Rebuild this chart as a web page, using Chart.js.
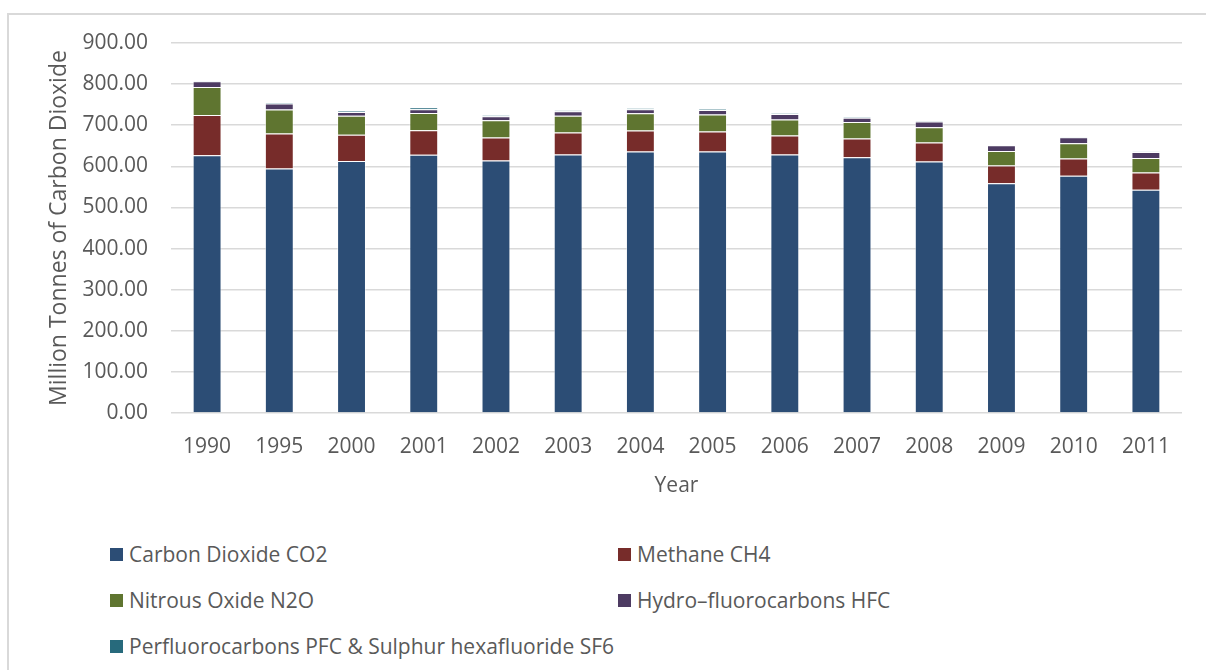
<!DOCTYPE html>
<html>
<head>
<meta charset="utf-8">
<script src="https://cdn.jsdelivr.net/npm/chart.js@4"></script>
<style>
    body { margin: 0; background: #fff; font-family: "Open Sans", sans-serif; }
    #frame { position: absolute; left: 7px; top: 13px; width: 1300px; height: 800px;
             border-left: 2px solid #d9d9d9; border-top: 2px solid #d9d9d9; }
    #wrap { position: absolute; left: 0; top: 0; width: 1206px; height: 510px; }
    #legend { position: absolute; left: 110px; top: 541px; display: grid;
              grid-template-columns: 508px 508px; row-gap: 20px; }
    .item { display: flex; align-items: center; height: 26px; font-size: 21px; color: #595959; white-space: nowrap; }
    .box { width: 13px; height: 13px; margin-right: 6px; flex: none; }
</style>
</head>
<body>
<div id="frame"></div>
<div id="wrap"><canvas id="chart"></canvas></div>
<div id="legend"></div>
<script>
const years = ['1990', '1995', '2000', '2001', '2002', '2003', '2004', '2005', '2006', '2007', '2008', '2009', '2010', '2011'];
const co2 = [627, 595, 613, 628, 614, 629, 636, 636, 629, 622, 612, 559, 577, 543];
const ch4 = [98, 85, 64, 60, 56, 53, 51, 49, 46, 46, 46, 43, 42, 42];
const n2o = [68, 58, 46, 42, 42, 41, 42, 41, 39, 40, 37, 35, 37, 35];
const hfc = [14, 15, 9, 9, 10, 11, 10, 11, 13, 10, 14, 14, 15, 15];
const pfc = [1.5, 2, 3, 4, 2, 2, 2.5, 2, 2, 2, 1, 1, 1, 0.5];
const yTicks = [0, 100, 200, 300, 400, 500, 600, 700, 800, 900];

const textColor = '#595959';
const font = { family: 'Open Sans', size: 21 };
const titleFont = { family: 'Open Sans', size: 23 };

function series(label, data, color) {
    return {
        label: label,
        data: data,
        backgroundColor: color,
        borderColor: 'rgba(255,255,255,0.45)',
        borderWidth: 1,
        barPercentage: 0.4,
        categoryPercentage: 1
    };
}

const chart = new Chart(document.getElementById('chart'), {
    type: 'bar',
    data: {
        labels: years,
        datasets: [
            series('Carbon Dioxide CO2', co2, '#2c4d75'),
            series('Methane CH4', ch4, '#772c2a'),
            series('Nitrous Oxide N2O', n2o, '#5f7530'),
            series('Hydro\u2013fluorocarbons HFC', hfc, '#4d3b62'),
            series('Perfluorocarbons PFC & Sulphur hexafluoride SF6', pfc, '#276a7c')
        ]
    },
    options: {
        responsive: true,
        maintainAspectRatio: false,
        animation: false,
        layout: { padding: { left: 0, right: 24, top: 43, bottom: 0 } },
        plugins: { legend: { display: false }, tooltip: { enabled: false } },
        scales: {
            x: {
                stacked: true,
                grid: { display: false },
                border: { display: false },
                ticks: { color: textColor, font: font, padding: 13, maxRotation: 0 },
                title: { display: true, text: 'Year', color: textColor, font: font, padding: { top: 0, bottom: 11 } },
                afterFit: (scale) => { scale.height = 97; }
            },
            y: {
                stacked: true,
                min: 0,
                max: 900,
                afterBuildTicks: (scale) => { scale.ticks = yTicks.map(v => ({ value: v })); },
                grid: { color: '#d9d9d9', lineWidth: 1.5, drawTicks: false },
                border: { display: false },
                ticks: { color: textColor, font: font, padding: 23, callback: (v) => v.toFixed(2) },
                title: { display: true, text: 'Million Tonnes of Carbon Dioxide', color: textColor, font: titleFont, padding: { top: 46, bottom: 0 } },
                afterFit: (scale) => { scale.width = 171; }
            }
        }
    }
});

// legend in two columns, like the original
const legendDiv = document.getElementById('legend');
chart.data.datasets.forEach((ds) => {
    const item = document.createElement('div');
    item.className = 'item';
    item.innerHTML = `<span class="box" style="background:${ds.backgroundColor}"></span>${ds.label}`;
    legendDiv.appendChild(item);
});
</script>
</body>
</html>
